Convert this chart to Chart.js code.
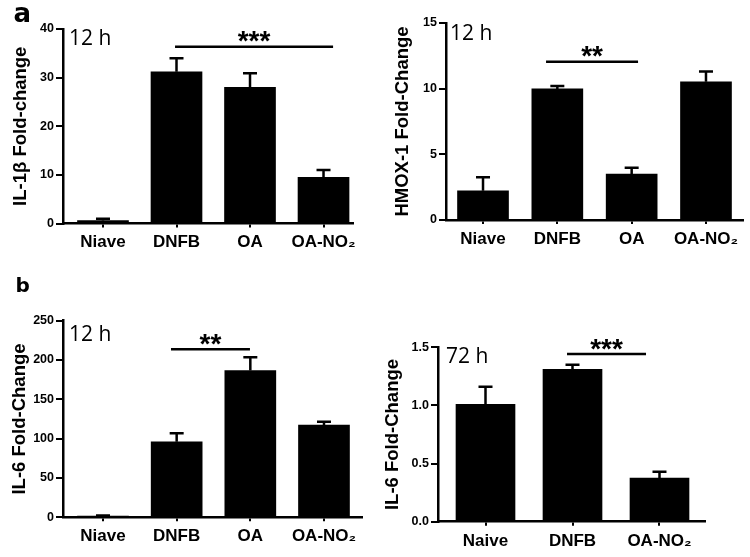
<!DOCTYPE html>
<html><head><meta charset="utf-8">
<script src="https://cdn.jsdelivr.net/npm/chart.js@4.4.1/dist/chart.umd.min.js"></script>
<style>
html,body{margin:0;padding:0;background:#fff;}
#wrap{position:relative;width:750px;height:557px;overflow:hidden;background:#fff;}
canvas{position:absolute;}
</style></head><body>
<div id="wrap">
<canvas id="c1" width="375" height="270" style="left:0;top:0"></canvas>
<canvas id="c2" width="375" height="270" style="left:375px;top:0"></canvas>
<canvas id="c3" width="375" height="287" style="left:0;top:270px"></canvas>
<canvas id="c4" width="375" height="287" style="left:375px;top:270px"></canvas>
</div>
<script>
// ---- data ----
const groups12h = ["Niave", "DNFB", "OA", "OA-NO\u2082"];
const groups72h = ["Naive", "DNFB", "OA-NO\u2082"];

const il1bMean = [0.6, 31.2, 28.0, 9.5];
const il1bErr  = [0.4, 2.8, 2.9, 1.5];
const il1bTicks = [0, 10, 20, 30, 40];

const hmoxMean = [2.23, 9.98, 3.5, 10.53];
const hmoxErr  = [1.02, 0.22, 0.48, 0.77];
const hmoxTicks = [0, 5, 10, 15];

const il6h12Mean = [1.5, 96.1, 186.7, 117.4];
const il6h12Err  = [0.8, 10.7, 16.9, 4.2];
const il6h12Ticks = [0, 50, 100, 150, 200, 250];

const il6h72Mean = [1.01, 1.31, 0.375];
const il6h72Err  = [0.15, 0.04, 0.055];
const il6h72Ticks = [0, 0.5, 1.0, 1.5];

// significance brackets: [from (category units), to, level (y units), label]
const sigIL1b   = [0.98, 3.13, 36.36, "***"];
const sigHMOX   = [0.848, 2.086, 12.05, "**"];
const sigIL6h12 = [0.923, 1.995, 213.6, "**"];
const sigIL6h72 = [0.937, 1.845, 1.442, "***"];

Chart.defaults.font.family = "'Liberation Sans', Arial, sans-serif";
Chart.defaults.color = '#000';

const annot = {
  id: 'annot',
  afterDatasetsDraw(chart, args, o) {
    const ctx = chart.ctx, x = chart.scales.x, y = chart.scales.y, ca = chart.chartArea;
    ctx.save();
    ctx.strokeStyle = '#000'; ctx.fillStyle = '#000';
    ctx.lineWidth = 2.5; ctx.lineCap = 'butt';
    // error bars (upper half)
    o.mean.forEach((m, i) => {
      const px = x.getPixelForValue(i);
      const y0 = y.getPixelForValue(m);
      const y1 = y.getPixelForValue(m + o.err[i]);
      ctx.beginPath();
      ctx.moveTo(px, y0); ctx.lineTo(px, y1);
      ctx.moveTo(px - 7, y1); ctx.lineTo(px + 7, y1);
      ctx.stroke();
    });
    // significance line + stars
    const s = o.sig;
    const xa = x.getPixelForValue(s[0]), xb = x.getPixelForValue(s[1]);
    const ly = y.getPixelForValue(s[2]);
    ctx.beginPath(); ctx.moveTo(xa, ly); ctx.lineTo(xb, ly); ctx.stroke();
    ctx.font = "bold 28px 'Liberation Sans', Arial, sans-serif";
    ctx.textAlign = 'center'; ctx.textBaseline = 'alphabetic';
    const mt = ctx.measureText(s[3]);
    ctx.fillText(s[3], (xa + xb) / 2, ly - 4.5 - mt.actualBoundingBoxDescent);
    // time label
    ctx.font = "21px 'Open Sans', sans-serif";
    ctx.textAlign = 'left';
    ctx.fillText(o.time, ca.left + o.timeDx, ca.top + o.timeDy);
    // panel letter
    if (o.letter) {
      ctx.font = "bold " + o.letter[3] + "px 'DejaVu Sans', sans-serif";
      ctx.fillText(o.letter[0], o.letter[1], o.letter[2]);
    }
    ctx.restore();
  }
};

function makePanel(id, p) {
  const canvas = document.getElementById(id);
  const W = canvas.width, H = canvas.height;
  new Chart(canvas, {
    type: 'bar',
    data: {
      datasets: [{
        data: p.mean.map((v, i) => ({x: i, y: v})),
        backgroundColor: '#000',
        borderWidth: 0,
        barThickness: p.barW
      }]
    },
    options: {
      responsive: false,
      animation: false,
      events: [],
      layout: { padding: { left: 0, top: p.top, right: W - p.right, bottom: 0 } },
      plugins: {
        legend: { display: false },
        tooltip: { enabled: false },
        annot: { mean: p.mean, err: p.err, sig: p.sig, time: p.time, timeDx: p.timeDx, timeDy: p.timeDy, letter: p.letter }
      },
      scales: {
        x: {
          type: 'linear',
          min: p.xMin, max: p.xMax,
          offset: false,
          afterFit: (s) => { s.height = H - p.bottom; },
          afterBuildTicks: (s) => { s.ticks = p.cats.map((_, i) => ({value: i})); },
          grid: { display: true, drawOnChartArea: false, drawTicks: true, tickLength: 4, lineWidth: 2, color: '#000', offset: false },
          border: { display: true, color: '#000', width: 2.5 },
          ticks: {
            autoSkip: false, maxRotation: 0, minRotation: 0, padding: 5,
            font: { size: 17, weight: 'bold' },
            callback: (v) => p.cats[v]
          }
        },
        y: {
          min: p.ticks[0], max: p.ticks[p.ticks.length - 1],
          afterFit: (s) => { s.width = p.left; },
          afterBuildTicks: (s) => { s.ticks = p.ticks.map(v => ({value: v})); },
          grid: { display: true, drawOnChartArea: false, drawTicks: true, tickLength: 7, lineWidth: 2, color: '#000' },
          border: { display: true, color: '#000', width: 2.5 },
          ticks: {
            padding: 2,
            font: { size: 12.5, weight: 'bold' },
            callback: p.fmt
          },
          title: {
            display: true, text: p.title,
            font: { size: 18.5, weight: 'bold' },
            padding: { top: p.titlePad, bottom: 0 }
          }
        }
      }
    },
    plugins: [annot]
  });
}

makePanel('c1', {
  cats: groups12h, mean: il1bMean, err: il1bErr, ticks: il1bTicks, sig: sigIL1b,
  title: 'IL-1\u03b2 Fold-change', fmt: (v) => String(v),
  left: 63, right: 353, top: 29, bottom: 223.5, xMin: -0.544, xMax: 3.401, barW: 51,
  titlePad: 9.4, time: '12 h', timeDx: 6, timeDy: 16, letter: ['a', 13.5, 22, 26]
});
makePanel('c2', {
  cats: groups12h, mean: hmoxMean, err: hmoxErr, ticks: hmoxTicks, sig: sigHMOX,
  title: 'HMOX-1 Fold-Change', fmt: (v) => String(v),
  left: 71, right: 368, top: 23, bottom: 220, xMin: -0.498, xMax: 3.498, barW: 51,
  titlePad: 17.2, time: '12 h', timeDx: 4, timeDy: 17, letter: null
});
makePanel('c3', {
  cats: groups12h, mean: il6h12Mean, err: il6h12Err, ticks: il6h12Ticks, sig: sigIL6h12,
  title: 'IL-6 Fold-Change', fmt: (v) => String(v),
  left: 63, right: 362, top: 50.7, bottom: 247.3, xMin: -0.543, xMax: 3.516, barW: 51,
  titlePad: 8.9, time: '12 h', timeDx: 6, timeDy: 20.5, letter: ['b', 15.5, 21.7, 20]
});
makePanel('c4', {
  cats: groups72h, mean: il6h72Mean, err: il6h72Err, ticks: il6h72Ticks, sig: sigIL6h72,
  title: 'IL-6 Fold-Change', fmt: (v) => v.toFixed(1),
  left: 63, right: 330, top: 77.3, bottom: 251.7, xMin: -0.546, xMax: 2.523, barW: 59,
  titlePad: 7.2, time: '72 h', timeDx: 8, timeDy: 16, letter: null
});
</script>
</body></html>
